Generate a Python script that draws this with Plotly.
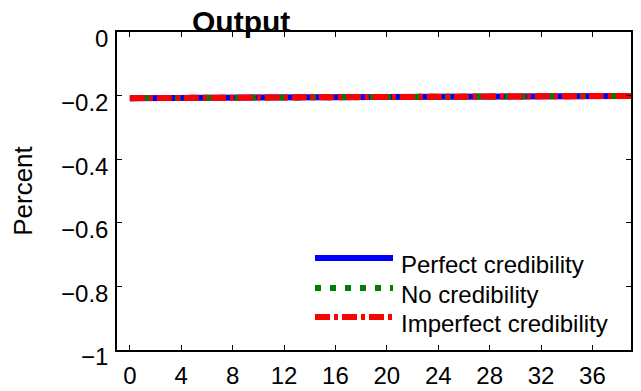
import plotly.graph_objects as go

# Quarters after the shock
quarters = list(range(40))

# Output response (percent deviation) under three credibility regimes
perfect = [-0.208, -0.2078, -0.2076, -0.2074, -0.2072, -0.2070, -0.2068, -0.2066, -0.2064, -0.2062,
           -0.2060, -0.2058, -0.2056, -0.2054, -0.2052, -0.2050, -0.2048, -0.2047, -0.2045, -0.2043,
           -0.2041, -0.2039, -0.2038, -0.2036, -0.2034, -0.2032, -0.2031, -0.2029, -0.2027, -0.2026,
           -0.2024, -0.2022, -0.2021, -0.2019, -0.2018, -0.2016, -0.2015, -0.2013, -0.2012, -0.2010]
no_cred = [-0.208, -0.2078, -0.2076, -0.2074, -0.2072, -0.2070, -0.2068, -0.2066, -0.2064, -0.2062,
           -0.2060, -0.2058, -0.2056, -0.2054, -0.2052, -0.2050, -0.2048, -0.2047, -0.2045, -0.2043,
           -0.2041, -0.2039, -0.2038, -0.2036, -0.2034, -0.2032, -0.2031, -0.2029, -0.2027, -0.2026,
           -0.2024, -0.2022, -0.2021, -0.2019, -0.2018, -0.2016, -0.2015, -0.2013, -0.2012, -0.2010]
imperfect = [-0.208, -0.2078, -0.2076, -0.2074, -0.2072, -0.2070, -0.2068, -0.2066, -0.2064, -0.2062,
             -0.2060, -0.2058, -0.2056, -0.2054, -0.2052, -0.2050, -0.2048, -0.2047, -0.2045, -0.2043,
             -0.2041, -0.2039, -0.2038, -0.2036, -0.2034, -0.2032, -0.2031, -0.2029, -0.2027, -0.2026,
             -0.2024, -0.2022, -0.2021, -0.2019, -0.2018, -0.2016, -0.2015, -0.2013, -0.2012, -0.2010]

series_names = ["Perfect credibility", "No credibility", "Imperfect credibility"]
series_colors = ["#0000ff", "#008000", "#ff0000"]
series_dash = ["solid", "6px,9px", "15px,4px,4px,4px"]

x_ticks = [0, 4, 8, 12, 16, 20, 24, 28, 32, 36]
y_ticks = [0, -0.2, -0.4, -0.6, -0.8, -1]
y_ticktext = ["0", "\u22120.2", "\u22120.4", "\u22120.6", "\u22120.8", "\u22121"]

FONT = "Liberation Sans, Arial, Helvetica, sans-serif"
W, H = 641, 391
L, R, T, B = 117, 10, 32, 41

fig = go.Figure()
for name, ys, col, dash in zip(series_names, [perfect, no_cred, imperfect], series_colors, series_dash):
    fig.add_trace(go.Scatter(x=quarters, y=ys, mode="lines", name=name,
                             line=dict(color=col, width=6, dash=dash), showlegend=False))

# Hand-drawn legend: long line samples with labels
pw, ph = W - L - R, H - T - B
def px_x(p):
    return (p - L) / pw
def px_y(p):
    return (H - B - p) / ph

legend_rows = [258, 288, 317]
for row, name, col, dash in zip(legend_rows, series_names, series_colors, series_dash):
    fig.add_shape(type="line", xref="paper", yref="paper",
                  x0=px_x(315), x1=px_x(393), y0=px_y(row), y1=px_y(row),
                  line=dict(color=col, width=6, dash=dash))
    fig.add_annotation(xref="paper", yref="paper", x=px_x(399), y=px_y(row + 6),
                       xanchor="left", yanchor="middle", showarrow=False,
                       text=name, font=dict(family=FONT, size=24, color="black"))

fig.add_annotation(xref="paper", yref="paper", x=px_x(241), y=1, xanchor="center",
                   yanchor="bottom", yshift=-8, showarrow=False, text="<b>Output</b>",
                   font=dict(family=FONT, size=30, color="black"))

fig.update_xaxes(range=[-1, 39], tickvals=x_ticks, ticks="inside", ticklen=5, tickwidth=1,
                 tickcolor="black", showline=True, linecolor="black", linewidth=1.5,
                 mirror="ticks", showgrid=False, zeroline=False, automargin=False,
                 ticklabelstandoff=3,
                 tickfont=dict(family=FONT, size=24, color="black"))
fig.update_yaxes(range=[-1, 0], tickvals=y_ticks, ticktext=y_ticktext, ticks="inside",
                 ticklen=5, tickwidth=1, tickcolor="black", showline=True, linecolor="black",
                 linewidth=1.5, mirror="ticks", showgrid=False, zeroline=False, automargin=False,
                 ticklabelshift=7, ticklabelstandoff=2,
                 tickfont=dict(family=FONT, size=24, color="black"),
                 title=dict(text="Percent", font=dict(family=FONT, size=26, color="black"),
                            standoff=21))

fig.update_layout(width=W, height=H, margin=dict(l=L, r=R, t=T, b=B, autoexpand=False),
                  paper_bgcolor="white", plot_bgcolor="white")

fig.write_html("out.html")
